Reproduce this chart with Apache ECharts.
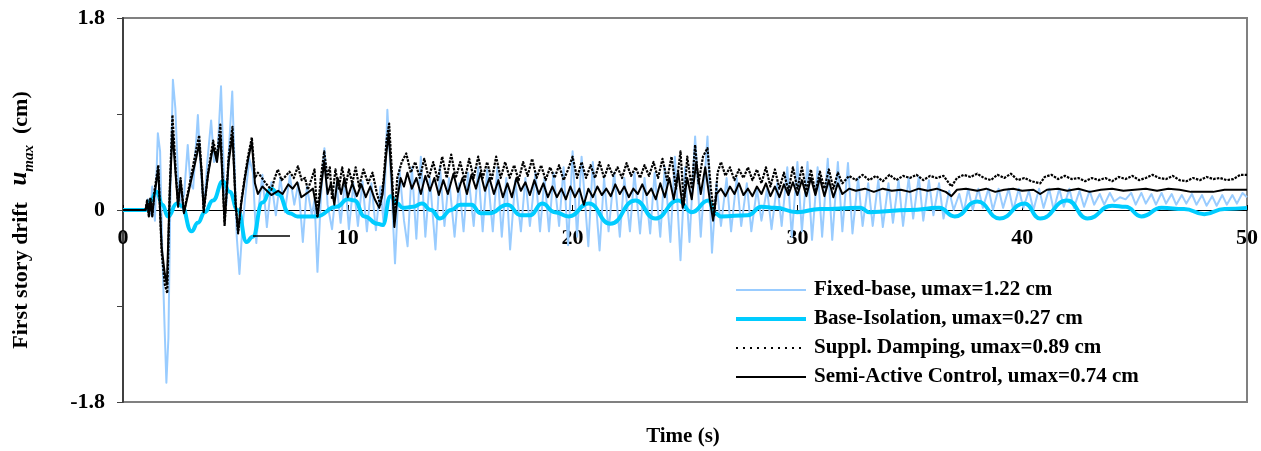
<!DOCTYPE html>
<html>
<head>
<meta charset="utf-8">
<script src="https://cdn.jsdelivr.net/npm/echarts@6/dist/echarts.min.js"></script>
<style>
  html, body { margin: 0; padding: 0; background: #ffffff; }
  #chart { width: 1261px; height: 451px; }
</style>
</head>
<body>
<div id="chart"></div>
<script>
// First-story drift time histories [time (s), drift (cm)]

const xTickValues = [0, 10, 20, 30, 40, 50];
const yTickLabels = ['-1.8', '0', '1.8'];

const fixedBase = [
  [0,0],[1.0,0],[1.1,0.1],[1.2,-0.05],[1.3,0.22],[1.42,-0.1],[1.55,0.72],[1.65,0.55],[1.75,-0.4],[1.85,-1.1],
  [1.93,-1.62],[2.02,-1.2],[2.12,0.3],[2.22,1.22],[2.33,0.95],[2.45,0.3],[2.58,0.02],[2.72,0.15],[2.88,0.61],[3.0,0.25],
  [3.12,0.2],[3.33,0.89],[3.45,0.4],[3.6,0.0],[3.75,0.45],[3.92,0.84],[4.05,0.45],[4.2,0.5],[4.36,1.16],[4.5,0.25],
  [4.6,0.05],[4.72,0.6],[4.86,1.11],[4.96,0.45],[5.06,-0.25],[5.18,-0.6],[5.3,-0.2],[5.45,0.15],[5.62,0.48],[5.78,0.35],
  [5.93,-0.31],[6.05,0.05],[6.2,0.33],[6.4,-0.16],[6.6,0.26],[6.8,-0.05],[7.0,0.3],[7.2,-0.02],[7.42,0.32],[7.62,0.05],
  [7.8,0.25],[8.0,-0.3],[8.18,0.22],[8.4,-0.05],[8.52,0.1],[8.65,-0.58],[8.8,0.1],[8.96,0.58],[9.1,0.05],[9.3,-0.18],
  [9.5,0.25],[9.68,-0.12],[9.88,0.28],[10.05,-0.18],[10.25,0.25],[10.45,-0.15],[10.65,0.27],[10.85,-0.2],[11.05,0.25],[11.25,-0.19],
  [11.45,0.22],[11.6,-0.15],[11.76,0.94],[11.92,0.3],[12.1,-0.5],[12.3,0.38],[12.5,-0.1],[12.66,-0.34],[12.85,0.4],[13.05,-0.27],
  [13.25,0.5],[13.45,-0.25],[13.65,0.3],[13.9,-0.37],[14.1,0.4],[14.3,-0.15],[14.5,0.3],[14.75,-0.25],[14.95,0.25],[15.15,-0.2],
  [15.35,0.35],[15.6,-0.15],[15.8,0.4],[16.0,-0.2],[16.2,0.38],[16.45,-0.2],[16.65,0.4],[16.85,-0.25],[17.05,0.3],[17.22,-0.37],
  [17.45,0.28],[17.7,-0.2],[17.9,0.3],[18.1,-0.15],[18.35,0.35],[18.55,-0.2],[18.75,0.3],[18.95,-0.2],[19.15,0.35],[19.4,-0.15],
  [19.6,0.4],[19.8,-0.33],[20.0,0.55],[20.2,-0.25],[20.4,0.5],[20.7,-0.34],[20.9,0.45],[21.2,-0.38],[21.4,0.3],[21.6,-0.2],
  [21.85,0.35],[22.1,-0.25],[22.3,0.3],[22.55,-0.2],[22.75,0.35],[23.0,-0.22],[23.2,0.3],[23.45,-0.22],[23.65,0.35],[23.9,-0.25],
  [24.1,0.4],[24.35,-0.3],[24.55,0.5],[24.8,-0.47],[25.0,0.4],[25.2,-0.3],[25.45,0.69],[25.7,-0.25],[26.0,0.69],[26.2,-0.4],
  [26.4,0.25],[26.6,-0.15],[26.85,0.3],[27.05,-0.2],[27.3,0.3],[27.5,-0.15],[27.75,0.25],[27.95,-0.2],[28.2,0.2],[28.4,-0.1],
  [28.65,0.2],[28.85,-0.18],[29.1,0.25],[29.3,-0.15],[29.55,0.4],[29.75,-0.25],[30.0,0.45],[30.2,-0.2],[30.45,0.45],[30.65,-0.28],
  [30.9,0.4],[31.1,-0.25],[31.35,0.48],[31.55,-0.28],[31.8,0.45],[32.0,-0.2],[32.25,0.44],[32.45,-0.22],[32.7,0.3],[32.9,-0.15],
  [33.15,0.25],[33.35,-0.15],[33.6,0.28],[33.8,-0.16],[34.05,0.25],[34.25,-0.12],[34.5,0.28],[34.7,-0.15],[34.95,0.3],[35.15,-0.08],
  [35.4,0.31],[35.6,-0.1],[35.85,0.28],[36.05,-0.05],[36.3,0.25],[36.5,-0.08],[36.75,0.18],[36.95,0.0],[37.2,0.15],[37.4,-0.02],
  [37.6,0.2],[37.8,0.0],[38.05,0.2],[38.25,0.02],[38.5,0.2],[38.7,0.0],[38.95,0.2],[39.15,0.02],[39.4,0.2],[39.6,0.0],
  [39.85,0.2],[40.05,0.02],[40.3,0.18],[40.5,0.0],[40.75,0.2],[40.95,0.02],[41.2,0.2],[41.4,0.0],[41.65,0.2],[41.85,0.03],
  [42.1,0.2],[42.3,0.02],[42.55,0.18],[42.75,0.03],[43.0,0.18],[43.2,0.05],[43.45,0.15],[43.65,0.05],[43.9,0.16],[44.1,0.08],
  [44.35,0.12],[44.6,0.1],[44.85,0.16],[45.05,0.05],[45.3,0.16],[45.5,0.06],[45.75,0.15],[45.95,0.05],[46.2,0.16],[46.4,0.06],
  [46.65,0.15],[46.85,0.05],[47.1,0.14],[47.3,0.06],[47.55,0.15],[47.75,0.05],[48.0,0.14],[48.2,0.04],[48.45,0.13],[48.65,0.04],
  [48.9,0.14],[49.1,0.05],[49.35,0.14],[49.55,0.06],[49.8,0.16],[50,0.12]
];

const baseIsolation = [
  [0,0],[1.0,0],[1.2,0.08],[1.5,0.17],[1.75,0.05],[2.0,-0.06],[2.4,0.06],[2.6,0.04],[3.05,-0.2],[3.33,-0.12],
  [3.64,-0.02],[4.0,0.09],[4.45,0.27],[4.74,0.17],[5.1,0.0],[5.5,-0.3],[5.77,-0.25],[6.2,0.07],[6.6,0.2],[6.9,0.15],
  [7.4,-0.03],[7.76,-0.06],[8.6,-0.06],[9.5,0.03],[10.0,0.1],[10.3,0.09],[10.74,-0.06],[11.33,-0.13],[11.55,-0.14],[11.9,0.13],
  [12.2,0.06],[12.45,0.02],[12.9,0.03],[13.3,0.06],[13.7,0.0],[14.1,-0.08],[14.6,0.0],[15.0,0.05],[15.5,0.05],[15.9,-0.03],
  [16.3,-0.03],[17.1,0.05],[17.7,-0.05],[18.1,-0.05],[18.65,0.06],[19.2,-0.02],[19.83,-0.06],[20.72,0.06],[21.68,-0.13],[22.79,0.09],
  [23.67,-0.08],[24.7,0.09],[25.3,-0.02],[26.04,0.09],[26.34,-0.03],[26.6,-0.06],[27.8,-0.05],[28.4,0.03],[29.0,0.02],[30.0,-0.02],
  [31.0,0.01],[32.8,0.02],[33.2,-0.02],[35.0,0.0],[36.3,0.02],[37.0,-0.06],[38.0,0.08],[39.0,-0.08],[40.1,0.06],[40.8,-0.08],
  [42.0,0.09],[42.9,-0.08],[44.0,0.04],[44.6,0.03],[45.3,-0.06],[46.2,0.02],[47.2,0.01],[48.1,-0.04],[49.0,0.01],[50,0.02]
];

const supplDamping = [
  [0,0],[1.0,0],[1.08,0.1],[1.15,-0.06],[1.22,0.12],[1.3,-0.06],[1.4,0.18],[1.57,0.42],[1.72,-0.4],[1.86,-0.7],
  [1.97,-0.78],[2.08,0.2],[2.2,0.89],[2.35,0.35],[2.45,0.05],[2.56,0.3],[2.71,-0.02],[2.97,0.25],[3.24,0.55],[3.39,0.7],
  [3.5,0.35],[3.59,-0.02],[3.79,0.36],[4.01,0.65],[4.18,0.5],[4.33,0.8],[4.52,-0.15],[4.7,0.5],[4.87,0.78],[5.01,0.05],
  [5.12,-0.22],[5.26,0.08],[5.41,0.3],[5.56,0.5],[5.73,0.68],[5.87,0.3],[6.0,0.35],[6.15,0.31],[6.35,0.25],[6.6,0.19],
  [6.75,0.3],[6.89,0.38],[7.05,0.28],[7.2,0.31],[7.4,0.36],[7.6,0.3],[7.78,0.41],[7.95,0.28],[8.1,0.3],[8.22,0.19],
  [8.4,0.3],[8.52,0.38],[8.64,-0.06],[8.8,0.3],[8.95,0.55],[9.1,0.3],[9.2,0.4],[9.3,0.1],[9.45,0.38],[9.6,0.2],
  [9.75,0.4],[9.9,0.22],[10.05,0.38],[10.2,0.25],[10.35,0.4],[10.5,0.22],[10.7,0.38],[10.9,0.25],[11.1,0.35],[11.3,0.15],
  [11.45,0.05],[11.6,0.3],[11.72,0.65],[11.84,0.81],[11.95,0.4],[12.07,-0.1],[12.2,0.3],[12.4,0.45],[12.6,0.53],[12.8,0.35],
  [13.0,0.45],[13.2,0.3],[13.4,0.48],[13.6,0.3],[13.8,0.45],[14.0,0.28],[14.2,0.5],[14.4,0.3],[14.6,0.52],[14.8,0.3],
  [15.0,0.45],[15.2,0.28],[15.4,0.48],[15.6,0.3],[15.8,0.5],[16.0,0.3],[16.2,0.45],[16.4,0.28],[16.6,0.5],[16.8,0.3],
  [17.0,0.45],[17.2,0.3],[17.4,0.42],[17.6,0.28],[17.8,0.45],[18.0,0.32],[18.2,0.48],[18.4,0.3],[18.6,0.42],[18.8,0.28],
  [19.0,0.4],[19.2,0.3],[19.4,0.42],[19.6,0.28],[19.8,0.38],[20.0,0.5],[20.2,0.3],[20.4,0.45],[20.6,0.3],[20.8,0.42],
  [21.0,0.3],[21.2,0.45],[21.4,0.3],[21.6,0.42],[21.8,0.32],[22.0,0.4],[22.2,0.3],[22.4,0.44],[22.6,0.32],[22.8,0.4],
  [23.0,0.3],[23.2,0.42],[23.4,0.32],[23.6,0.45],[23.8,0.3],[24.0,0.48],[24.2,0.28],[24.4,0.5],[24.6,0.2],[24.8,0.55],
  [24.95,0.05],[25.1,0.5],[25.3,0.2],[25.45,0.61],[25.6,0.25],[25.8,0.5],[26.0,0.58],[26.15,0.2],[26.3,-0.05],[26.45,0.35],
  [26.6,0.45],[26.8,0.32],[27.0,0.4],[27.2,0.28],[27.4,0.38],[27.6,0.3],[27.8,0.4],[28.0,0.28],[28.2,0.38],[28.4,0.25],
  [28.6,0.4],[28.8,0.22],[29.0,0.38],[29.2,0.2],[29.4,0.35],[29.6,0.18],[29.8,0.4],[30.0,0.2],[30.2,0.4],[30.4,0.18],
  [30.6,0.38],[30.8,0.16],[31.0,0.36],[31.2,0.2],[31.4,0.38],[31.6,0.2],[31.8,0.35],[32.0,0.25],[32.3,0.32],[32.6,0.28],
  [32.9,0.33],[33.2,0.28],[33.5,0.32],[33.8,0.27],[34.1,0.33],[34.4,0.28],[34.7,0.32],[35.0,0.3],[35.3,0.33],[35.6,0.28],
  [35.9,0.32],[36.2,0.3],[36.5,0.32],[36.85,0.22],[37.1,0.3],[37.4,0.33],[37.7,0.31],[38.0,0.34],[38.3,0.3],[38.6,0.28],
  [38.9,0.33],[39.2,0.3],[39.5,0.34],[39.8,0.28],[40.1,0.3],[40.4,0.27],[40.8,0.25],[41.0,0.31],[41.3,0.33],[41.6,0.29],
  [41.9,0.32],[42.2,0.29],[42.5,0.3],[42.8,0.27],[43.1,0.3],[43.4,0.28],[43.7,0.3],[44.0,0.27],[44.3,0.31],[44.6,0.29],
  [44.9,0.32],[45.2,0.28],[45.5,0.3],[45.8,0.33],[46.1,0.3],[46.4,0.29],[46.7,0.32],[47.0,0.28],[47.3,0.27],[47.6,0.3],
  [47.9,0.28],[48.2,0.31],[48.5,0.29],[48.8,0.3],[49.1,0.28],[49.4,0.29],[49.7,0.33],[50,0.33]
];

const semiActive = [
  [0,0],[1.0,0],[1.08,0.08],[1.15,-0.05],[1.22,0.1],[1.3,-0.05],[1.4,0.15],[1.57,0.38],[1.72,-0.35],[1.86,-0.6],
  [1.95,-0.7],[2.08,0.16],[2.2,0.74],[2.35,0.31],[2.45,0.03],[2.56,0.28],[2.71,-0.03],[2.97,0.22],[3.24,0.47],[3.39,0.62],
  [3.5,0.35],[3.59,0.0],[3.79,0.34],[4.01,0.6],[4.18,0.45],[4.33,0.7],[4.52,-0.12],[4.7,0.45],[4.87,0.7],[5.01,0.06],
  [5.12,-0.2],[5.26,0.06],[5.41,0.28],[5.56,0.47],[5.73,0.64],[5.87,0.25],[6.0,0.15],[6.2,0.22],[6.4,0.18],[6.6,0.14],
  [6.9,0.18],[7.1,0.15],[7.35,0.24],[7.55,0.2],[7.75,0.26],[7.93,0.12],[8.2,0.16],[8.45,0.2],[8.58,0.05],[8.66,-0.06],
  [8.8,0.2],[8.95,0.45],[9.1,0.15],[9.25,0.25],[9.4,0.05],[9.55,0.3],[9.7,0.15],[9.85,0.3],[10.0,0.12],[10.2,0.25],
  [10.4,0.13],[10.6,0.24],[10.8,0.12],[11.0,0.22],[11.2,0.1],[11.4,0.02],[11.55,0.15],[11.7,0.5],[11.82,0.72],[11.95,0.3],
  [12.07,-0.16],[12.2,0.1],[12.35,0.3],[12.5,0.22],[12.65,0.35],[12.85,0.2],[13.05,0.3],[13.25,0.15],[13.45,0.32],[13.65,0.18],
  [13.85,0.3],[14.05,0.14],[14.25,0.28],[14.45,0.15],[14.7,0.34],[14.9,0.17],[15.1,0.3],[15.3,0.15],[15.5,0.33],[15.7,0.2],
  [15.9,0.35],[16.1,0.18],[16.3,0.3],[16.5,0.15],[16.7,0.28],[16.9,0.12],[17.1,0.25],[17.3,0.12],[17.5,0.3],[17.7,0.18],
  [17.9,0.26],[18.1,0.14],[18.3,0.28],[18.5,0.15],[18.7,0.25],[18.9,0.12],[19.1,0.22],[19.3,0.12],[19.5,0.2],[19.7,0.1],
  [19.9,0.22],[20.1,0.12],[20.3,0.2],[20.5,0.05],[20.7,0.2],[20.9,0.12],[21.1,0.22],[21.3,0.14],[21.5,0.2],[21.7,0.13],
  [21.9,0.24],[22.1,0.15],[22.3,0.22],[22.5,0.12],[22.7,0.2],[22.9,0.15],[23.1,0.24],[23.3,0.14],[23.5,0.2],[23.7,0.1],
  [23.9,0.25],[24.1,0.12],[24.3,0.3],[24.5,0.1],[24.7,0.35],[24.9,0.02],[25.1,0.3],[25.3,0.1],[25.5,0.45],[25.7,0.15],
  [25.9,0.4],[26.1,0.1],[26.25,-0.1],[26.4,0.15],[26.6,0.2],[26.8,0.13],[27.0,0.22],[27.2,0.15],[27.4,0.25],[27.6,0.14],
  [27.8,0.2],[28.0,0.13],[28.2,0.22],[28.4,0.15],[28.6,0.25],[28.8,0.13],[29.0,0.22],[29.2,0.12],[29.4,0.24],[29.6,0.14],
  [29.8,0.26],[30.0,0.14],[30.2,0.28],[30.4,0.13],[30.6,0.3],[30.8,0.14],[31.0,0.3],[31.2,0.13],[31.4,0.28],[31.6,0.12],
  [31.8,0.25],[32.0,0.15],[32.3,0.2],[32.6,0.18],[33.0,0.2],[33.4,0.17],[33.8,0.2],[34.2,0.18],[34.6,0.19],[35.0,0.17],
  [35.4,0.2],[35.8,0.18],[36.2,0.2],[36.6,0.17],[36.85,0.13],[37.1,0.19],[37.5,0.2],[38.0,0.18],[38.4,0.2],[38.8,0.17],
  [39.2,0.19],[39.6,0.2],[40.0,0.18],[40.5,0.19],[40.8,0.15],[41.1,0.19],[41.6,0.2],[42.0,0.18],[42.5,0.2],[43.0,0.17],
  [43.5,0.19],[44.0,0.2],[44.5,0.18],[45.0,0.19],[45.5,0.2],[46.0,0.18],[46.5,0.2],[47.0,0.19],[47.5,0.17],[48.0,0.17],
  [48.5,0.17],[49.0,0.19],[49.5,0.19],[50,0.19]
];

// Peak drift of each record, shown in the legend entries
function peak(series) {
  return Math.max.apply(null, series.map(function (p) { return p[1]; }));
}

const serif = '"Liberation Serif", "Times New Roman", serif';

const seriesDefs = [
  { label: 'Fixed-base', data: fixedBase, color: '#99CCFF', width: 2, type: 'solid', keyType: 'solid', smooth: false },
  { label: 'Base-Isolation', data: baseIsolation, color: '#00CCFF', width: 4, type: 'solid', keyType: 'solid', smooth: 0.5 },
  { label: 'Suppl. Damping', data: supplDamping, color: '#000000', width: 2.2, type: [2.5, 1.2], keyType: [2, 5], smooth: false },
  { label: 'Semi-Active Control', data: semiActive, color: '#000000', width: 2, type: 'solid', keyType: 'solid', smooth: false }
];

const series = seriesDefs.map(function (d, i) {
  return {
    type: 'line',
    name: d.label + ', umax=' + peak(d.data).toFixed(2) + ' cm',
    data: d.data,
    symbol: 'none',
    showSymbol: false,
    smooth: d.smooth,
    smoothMonotone: 'x',
    animation: false,
    z: 2 + i,
    lineStyle: { color: d.color, width: d.width, type: d.type, join: 'round' },
    itemStyle: { color: d.color }
  };
});

// legend keys: plain line samples, no point marker
const legendData = seriesDefs.map(function (d, i) {
  return {
    name: series[i].name,
    itemStyle: { opacity: 0, borderWidth: 0 },
    lineStyle: { color: d.color, width: d.width, type: d.keyType, opacity: 1 }
  };
});

const chart = echarts.init(document.getElementById('chart'), null, { renderer: 'canvas' });

// plot area: 123..1250 px wide, 18..402 px high; zero line sits at mid-height
const gridTop = 18, gridBottom = 49, gridHeight = 451 - gridTop - gridBottom;

chart.setOption({
  backgroundColor: '#ffffff',
  animation: false,
  grid: {
    left: 123, right: 11, top: gridTop, bottom: gridBottom,
    show: true, borderColor: '#808080', borderWidth: 2, backgroundColor: 'transparent'
  },
  xAxis: {
    type: 'value',
    min: xTickValues[0],
    max: xTickValues[xTickValues.length - 1],
    interval: 10,
    offset: -gridHeight / 2,
    axisLine: { onZero: false, lineStyle: { color: '#000000', width: 1 } },
    axisTick: { show: true, inside: true, length: 5, lineStyle: { color: '#000000', width: 1 } },
    axisLabel: { margin: 17, color: '#000000', fontFamily: serif, fontWeight: 'bold', fontSize: 22 },
    splitLine: { show: false }
  },
  yAxis: {
    type: 'value',
    min: -1.8, max: 1.8, interval: 0.9,
    axisLine: { show: true, onZero: false, lineStyle: { color: '#404040', width: 2 } },
    axisTick: { show: true, inside: false, length: 6, lineStyle: { color: '#404040', width: 1 } },
    axisLabel: {
      margin: 18, color: '#000000', fontFamily: serif, fontWeight: 'bold', fontSize: 22,
      formatter: function (v) {
        const s = String(Math.round(v * 10) / 10);
        return yTickLabels.indexOf(s) >= 0 ? s : '';
      }
    },
    splitLine: { show: false }
  },
  legend: {
    orient: 'vertical',
    left: 729, top: 274,
    itemWidth: 70, itemHeight: 14, itemGap: 7,
    data: legendData,
    itemStyle: { opacity: 0, borderWidth: 0 },
    textStyle: { color: '#000000', fontFamily: serif, fontWeight: 'bold', fontSize: 21, lineHeight: 22, padding: [0, 0, 0, 3] },
    selectedMode: false
  },
  graphic: [
    {
      type: 'text', x: 22, y: 220, rotation: Math.PI / 2,
      style: {
        text: '{a|First story drift   }{u|u}{s|max}{a|  (cm)}',
        align: 'center', verticalAlign: 'middle',
        rich: {
          a: { fontFamily: serif, fontWeight: 'bold', fontSize: 22, fill: '#000', verticalAlign: 'bottom', padding: [0, 0, 5, 0] },
          u: { fontFamily: serif, fontWeight: 'bold', fontStyle: 'italic', fontSize: 25, fill: '#000', verticalAlign: 'bottom', padding: [0, 0, 5, 0] },
          s: { fontFamily: serif, fontWeight: 'bold', fontStyle: 'italic', fontSize: 15, fill: '#000', verticalAlign: 'bottom' }
        }
      }
    },
    {
      type: 'text', x: 683, y: 437,
      style: {
        text: 'Time (s)', align: 'center', verticalAlign: 'middle',
        fontFamily: serif, fontWeight: 'bold', fontSize: 21, fill: '#000'
      }
    },
    {
      type: 'line', shape: { x1: 253, y1: 236, x2: 290, y2: 236 },
      style: { stroke: '#000000', lineWidth: 1.5 }, z: 10
    }
  ],
  series: series
});
</script>
</body>
</html>
